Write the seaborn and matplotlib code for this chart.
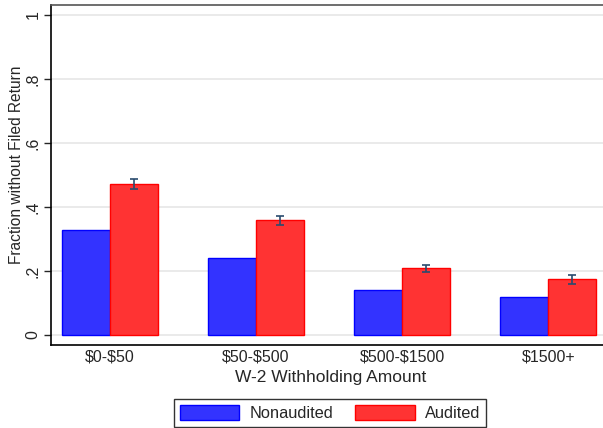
import pandas as pd
import numpy as np
import seaborn as sns
import matplotlib.pyplot as plt

# values
categories = ["$0-$50", "$50-$500", "$500-$1500", "$1500+"]
nonaudited = [0.328, 0.240, 0.142, 0.118]
audited = [0.471, 0.359, 0.208, 0.174]
audited_err = [0.015, 0.014, 0.012, 0.014]
groups = ["Nonaudited", "Audited"]
yticks = [0, 0.2, 0.4, 0.6, 0.8, 1]
yticklabels = ["0", ".2", ".4", ".6", ".8", "1"]

df = pd.DataFrame({
	"amount": categories * 2,
	"frac": nonaudited + audited,
	"group": [groups[0]] * 4 + [groups[1]] * 4,
})

sns.set_style("white")
plt.rcParams["font.family"] = ["Liberation Sans", "DejaVu Sans"]
plt.rcParams["text.parse_math"] = False

fig = plt.figure(figsize=(6.03, 4.28), dpi=100)
ax = fig.add_axes([51 / 603, 83 / 428, 560 / 603, 340 / 428])

pal = {"Nonaudited": "#3333ff", "Audited": "#ff3333"}
sns.barplot(data=df, x="amount", y="frac", hue="group", order=categories,
	hue_order=groups, palette=pal, width=0.66, gap=0, errorbar=None,
	saturation=1, linewidth=1.0, ax=ax)

# edge colours like the reference
for bar in ax.containers[0]:
	bar.set_edgecolor("#0000ff")
for bar in ax.containers[1]:
	bar.set_edgecolor("#ff0000")

# error bars on audited bars
xs = [b.get_x() + b.get_width() / 2 for b in ax.containers[1]]
ax.errorbar(xs, audited, yerr=audited_err, fmt="none", ecolor="#2a4b6e",
	elinewidth=1.2, capsize=3, capthick=1.2, zorder=5)

ax.set_ylim(-10 / 320, 1 + 10 / 320)
ax.set_xlim(-0.404, 3.43)
ax.set_yticks(yticks)
ax.set_yticklabels(yticklabels, rotation=90, va="center", fontsize=11.5)
ax.tick_params(axis="y", direction="out", length=5, width=1, left=True, pad=2.5)
ax.tick_params(axis="x", length=0, labelsize=11.5, pad=3)
ax.yaxis.grid(True, color="#e6e6e6", linewidth=1.2)
ax.set_axisbelow(True)

for s in ["left", "bottom"]:
	ax.spines[s].set_color("black")
	ax.spines[s].set_linewidth(1.2)
ax.spines["top"].set_color("#555555")
ax.spines["top"].set_linewidth(1.2)
ax.spines["right"].set_visible(False)

ax.set_xlabel("W-2 Withholding Amount", fontsize=12.5, labelpad=4)
ax.set_ylabel("Fraction without Filed Return", fontsize=11.2)
ax.yaxis.set_label_coords(-0.049, 0.53)

ax.legend_.remove()
handles = [plt.Rectangle((0, 0), 1, 1, facecolor=pal[g], edgecolor=e, linewidth=1)
	for g, e in zip(groups, ["#0000ff", "#ff0000"])]
leg = fig.legend(handles, groups, loc="lower center", bbox_to_anchor=(0.547, -0.016),
	ncol=2, fontsize=11.8, frameon=True, fancybox=False, edgecolor="black",
	handlelength=3.65, handleheight=1.05, columnspacing=1.35, handletextpad=0.6,
	borderpad=0.35)
leg.get_frame().set_linewidth(1.0)

plt.savefig("out.png", dpi=100)
